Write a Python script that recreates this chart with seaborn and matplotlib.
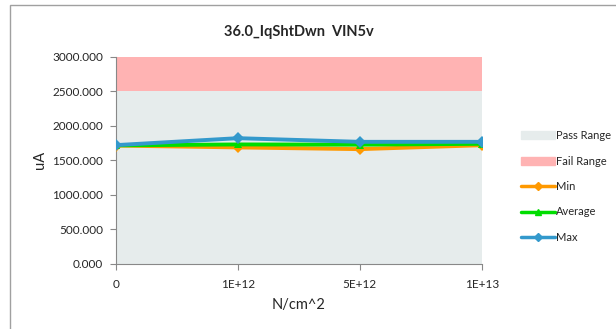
import pandas as pd
import numpy as np
import matplotlib.pyplot as plt
import seaborn as sns
from matplotlib.patches import Patch, Rectangle
from matplotlib.lines import Line2D

# values
fluence = ['0', '1E+12', '5E+12', '1E+13']
min_vals = [1715, 1688, 1663, 1720]
avg_vals = [1718, 1731, 1728, 1740]
max_vals = [1721, 1822, 1769, 1769]
pass_limit = 2500
fail_limit = 3000

sns.set_style("white")
plt.rcParams['font.family'] = ['Lato', 'DejaVu Sans']

data = pd.DataFrame({
    'x': list(range(len(fluence))) * 3,
    'value': min_vals + avg_vals + max_vals,
    'series': ['Min'] * 4 + ['Average'] * 4 + ['Max'] * 4,
})
colors = {'Min': '#FF9900', 'Average': '#00DD00', 'Max': '#3399CC'}
markers = {'Min': 'D', 'Average': '^', 'Max': 'D'}

fig = plt.figure(figsize=(6.16, 3.29), dpi=100)
ax = fig.add_axes([0.188, 0.198, 0.594, 0.629])

# chart frame
fig.patches.append(Rectangle((0.016, -0.01), 1.2, 0.995, transform=fig.transFigure,
                             fill=False, edgecolor='#A0A0A0', linewidth=1))

pass_color = '#E6ECEC'
fail_color = '#FFB3B3'
ax.fill_between([0, len(fluence) - 1], 0, pass_limit, color=pass_color, linewidth=0, zorder=0)
ax.fill_between([0, len(fluence) - 1], pass_limit, fail_limit, color=fail_color, linewidth=0, zorder=0)

sns.lineplot(data=data, x='x', y='value', hue='series', style='series',
             palette=colors, markers=markers, dashes=False, linewidth=2.8,
             markersize=6, markeredgewidth=0, ax=ax, legend=False, zorder=3)

ax.set_xlim(0, len(fluence) - 1)
ax.set_ylim(0, 3000)
ax.set_xticks(range(len(fluence)))
ax.set_xticklabels(fluence, fontsize=8.5)
ax.set_yticks(np.arange(0, 3001, 500))
ax.set_yticklabels([f'{v:.3f}' for v in np.arange(0, 3001, 500)], fontsize=8.5)
ax.tick_params(axis='both', length=4, color='#888888', direction='out', bottom=True, left=True)
ax.tick_params(axis='x', pad=7)
ax.tick_params(axis='y', pad=5)
for side in ['top', 'right']:
    ax.spines[side].set_visible(False)
for side in ['left', 'bottom']:
    ax.spines[side].set_color('#888888')
ax.set_xlabel('N/cm^2', fontsize=10.5, labelpad=6)
ax.set_ylabel('uA', fontsize=10.5, labelpad=4)
ax.set_title('36.0_IqShtDwn  VIN5v', fontsize=10.5, fontweight='bold', pad=15)

handles = [
    Patch(color=pass_color, label='Pass Range'),
    Patch(color=fail_color, label='Fail Range'),
    Line2D([], [], color=colors['Min'], marker='D', markersize=4, linewidth=2.5, label='Min'),
    Line2D([], [], color=colors['Average'], marker='^', markersize=5, linewidth=2.5, label='Average'),
    Line2D([], [], color=colors['Max'], marker='D', markersize=4, linewidth=2.5, label='Max'),
]
fig.legend(handles=handles, loc='upper left', bbox_to_anchor=(0.83, 0.635),
           frameon=False, fontsize=8, handlelength=3, labelspacing=1.3,
           handletextpad=0.1)

fig.savefig('out.png', dpi=100)
